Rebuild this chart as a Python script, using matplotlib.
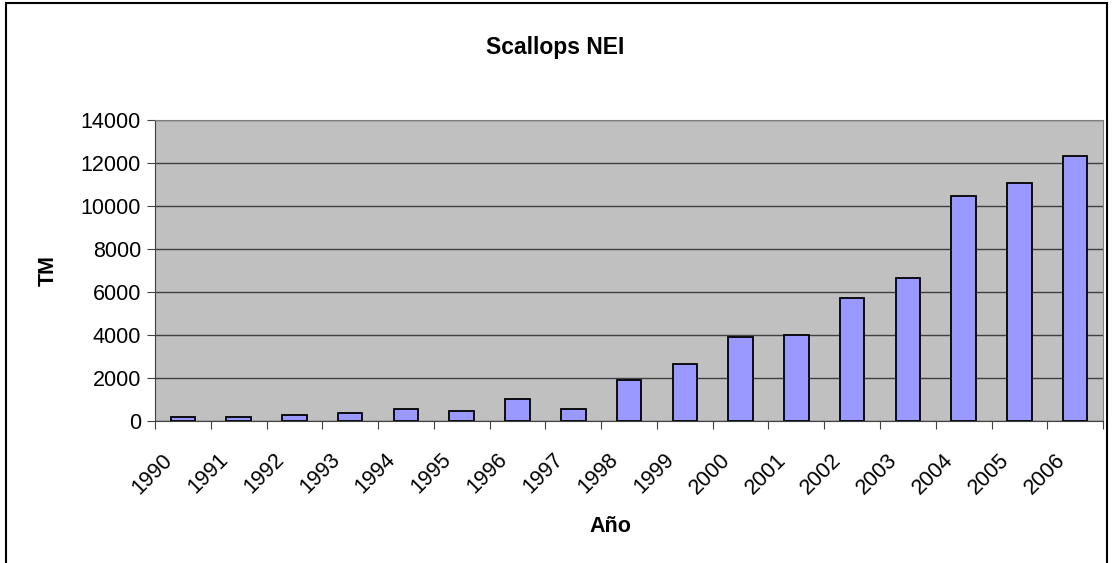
import numpy as np
import matplotlib
matplotlib.use("Agg")
import matplotlib.pyplot as plt
from matplotlib.patches import Rectangle
from matplotlib.transforms import ScaledTranslation

years = [str(y) for y in range(1990, 2007)]
tm = [180, 170, 280, 370, 540, 450, 1040, 540, 1890, 2670,
      3920, 4010, 5700, 6650, 10460, 11070, 12340]

plt.rcParams['font.family'] = ['Liberation Sans', 'DejaVu Sans']

fig = plt.figure(figsize=(11.12, 5.63), dpi=100)
ax = fig.add_axes([0.1394, 0.2522, 0.8526, 0.5347])

x = np.arange(len(years))
ax.bar(x, tm, width=0.44, color='#9999FF', edgecolor='black', linewidth=1.3, zorder=3)

ax.set_facecolor('#C0C0C0')
ax.set_xlim(-0.5, len(years) - 0.5)
ax.set_ylim(0, 14000)
ax.set_yticks(np.arange(0, 14001, 2000))
ax.yaxis.grid(True, color='#404040', linewidth=1, zorder=1)
ax.set_axisbelow(True)

# ticks between categories, labels centered under bars
ax.set_xticks(np.arange(-0.5, len(years), 1))
ax.set_xticklabels([])
ax.set_xticks(x, minor=True)
ax.set_xticklabels(years, minor=True, rotation=45, ha='right', va='top',
                   rotation_mode='anchor', fontsize=15.5)
ax.tick_params(axis='x', which='minor', length=0, pad=14)
ax.tick_params(axis='x', which='major', length=6, direction='out', color='#404040')
ax.tick_params(axis='y', length=6, direction='out', color='#404040', labelsize=15.5, pad=4)

# nudge rotated labels left/down like the original
shift = ScaledTranslation(-21 / 100, -9 / 100, fig.dpi_scale_trans)
for lbl in ax.get_xticklabels(minor=True):
    lbl.set_transform(lbl.get_transform() + shift)

for s in ['top', 'right']:
    ax.spines[s].set_color('#808080')
for s in ['left', 'bottom']:
    ax.spines[s].set_color('#404040')

fig.text(0.4995, 0.915, 'Scallops NEI', ha='center', va='center', fontsize=16.5, fontweight='bold')
fig.text(0.043, 0.52, 'TM', ha='center', va='center', rotation=90, fontsize=15.5, fontweight='bold')
fig.text(0.5485, 0.065, 'Año', ha='center', va='center', fontsize=15.5, fontweight='bold')

fig.patches.append(Rectangle((0.0058, -0.01), 0.9897, 1.005, transform=fig.transFigure,
                             fill=False, edgecolor='black', linewidth=1.5))

fig.savefig('out.png', dpi=100)
